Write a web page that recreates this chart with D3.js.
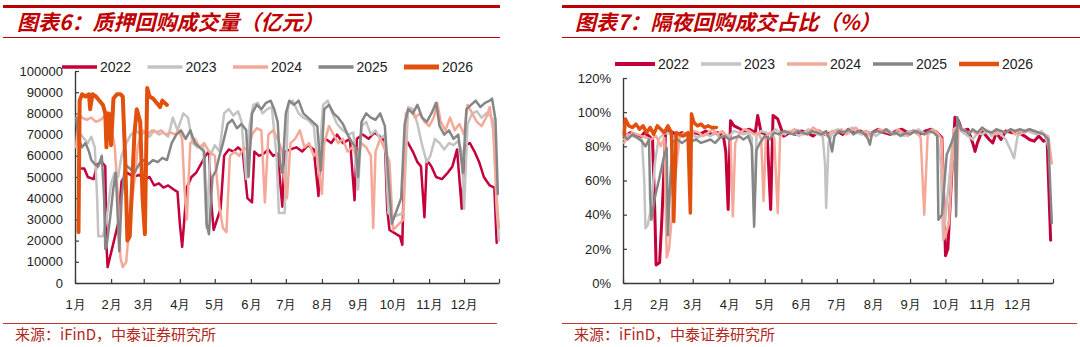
<!DOCTYPE html>
<html>
<head>
<meta charset="utf-8">
<script src="https://cdn.jsdelivr.net/npm/d3@7"></script>
<style>
  body { margin: 0; background: #fff; }
  svg { display: block; font-family: "Liberation Sans", Arial, "Noto Sans CJK SC", sans-serif; }
</style>
</head>
<body>
<svg id="chart" width="1080" height="347"></svg>
<script>
// ---- shared labels ----
const monthLabels = ["1月","2月","3月","4月","5月","6月","7月","8月","9月","10月","11月","12月"];
const years = ["2022","2023","2024","2025","2026"];
const yearColors = ["#c4003a","#c3c3c3","#f6a898","#868686","#e2500e"];
const volumeTicks = [0,10000,20000,30000,40000,50000,60000,70000,80000,90000,100000];
const shareTicks = [0,20,40,60,80,100,120];

// ---- 图表6 质押回购成交量（亿元）: [day of year, value] ----
const volume2022 = [[3,54000],[8,54000],[11,50000],[16,49000],[19,56000],[23,57000],[26,55000],[27,18000],[28,7500],[37,28000],[40,48000],[45,52000],[50,50000],[55,51000],[60,49000],[64,50000],[68,46000],[72,47000],[76,45000],[80,46000],[85,44000],[88,43000],[90,28000],[92,17000],[96,45000],[100,50000],[104,52000],[108,56000],[112,60000],[115,62000],[117,38000],[119,25000],[125,35000],[128,60000],[132,63000],[136,62000],[140,64000],[144,62000],[148,40000],[152,38000],[154,62000],[158,60000],[162,61000],[166,63000],[170,60000],[174,61000],[178,36000],[180,62000],[185,63000],[190,64000],[195,62000],[200,65000],[205,63000],[209,41000],[211,65000],[215,68000],[220,66000],[225,70000],[230,66000],[236,68000],[240,39000],[242,68000],[247,70000],[252,68000],[257,71000],[262,69000],[266,67000],[268,35000],[270,25000],[279,22000],[281,18000],[283,68000],[286,66000],[290,62000],[294,57000],[297,55000],[300,31000],[302,58000],[306,55000],[310,50000],[315,49000],[320,52000],[324,55000],[328,63000],[332,35000],[335,65000],[339,66000],[343,62000],[347,57000],[351,50000],[356,46000],[360,45000],[362,19000]];
const volume2023 = [[2,72000],[5,70000],[8,68000],[11,66000],[14,69000],[17,64000],[19,40000],[20,22000],[24,22000],[27,30000],[31,47000],[34,52000],[37,50000],[40,60000],[44,66000],[48,70000],[52,72000],[56,70000],[60,71000],[64,69000],[68,72000],[72,70000],[76,71000],[80,69000],[84,78000],[88,72000],[93,80000],[97,78000],[101,66000],[105,64000],[110,65000],[113,26000],[116,60000],[120,65000],[124,62000],[128,80000],[132,82000],[136,79000],[140,81000],[143,76000],[147,49000],[150,75000],[153,84000],[157,85000],[161,80000],[165,82000],[169,83000],[173,60000],[175,33000],[180,33000],[183,84000],[187,86000],[192,80000],[196,78000],[200,77000],[205,74000],[209,53000],[213,84000],[217,86000],[221,80000],[225,75000],[230,72000],[235,70000],[239,71000],[243,44000],[246,74000],[250,76000],[254,70000],[258,72000],[262,68000],[266,70000],[269,33000],[272,31000],[282,33000],[286,83000],[290,82000],[294,75000],[298,65000],[302,57000],[305,60000],[309,68000],[313,66000],[317,63000],[321,66000],[325,65000],[329,67000],[332,62000],[334,35000],[337,75000],[341,80000],[345,81000],[349,78000],[353,80000],[356,79000],[359,77000],[362,35000],[364,20000]];
const volume2024 = [[1,64000],[3,80000],[6,78000],[10,77000],[14,78000],[18,76000],[22,77000],[26,79000],[30,76000],[34,65000],[37,40000],[39,12000],[41,7500],[44,10000],[47,30000],[51,48000],[54,65000],[58,72000],[62,70000],[66,72000],[70,71000],[74,72000],[78,70000],[82,71000],[86,70000],[89,72000],[92,68000],[94,44000],[96,30000],[99,66000],[103,68000],[107,64000],[111,66000],[115,62000],[120,60000],[124,36000],[127,26000],[130,24000],[133,60000],[137,62000],[141,60000],[145,64000],[149,62000],[152,70000],[156,73000],[160,72000],[163,38000],[166,70000],[170,72000],[174,68000],[178,62000],[180,48000],[182,40000],[185,66000],[189,68000],[193,72000],[197,64000],[201,66000],[205,60000],[208,62000],[210,50000],[212,42000],[214,66000],[218,74000],[222,70000],[226,66000],[230,68000],[234,62000],[238,64000],[242,59000],[246,66000],[250,64000],[254,60000],[256,26000],[258,62000],[262,68000],[266,63000],[270,57000],[273,25000],[282,30000],[284,80000],[288,82000],[292,78000],[296,80000],[300,76000],[304,74000],[308,78000],[311,85000],[314,76000],[318,72000],[322,78000],[326,72000],[330,75000],[334,70000],[337,84000],[341,80000],[345,76000],[349,74000],[353,78000],[356,83000],[359,72000],[362,40000],[364,26000]];
const volume2025 = [[1,78000],[3,68000],[6,64000],[9,66000],[12,62000],[14,58000],[17,56000],[20,55000],[23,60000],[25,40000],[26,16000],[27,17000],[30,30000],[33,45000],[35,52000],[36,40000],[38,15000],[40,40000],[43,56000],[47,54000],[51,52000],[55,56000],[59,58000],[63,56000],[67,58000],[71,57000],[75,59000],[79,58000],[83,66000],[87,70000],[91,72000],[95,68000],[99,72000],[103,66000],[107,64000],[111,62000],[113,28000],[115,23000],[118,50000],[121,53000],[124,60000],[127,66000],[131,75000],[135,77000],[139,73000],[143,75000],[147,72000],[149,50000],[152,80000],[156,84000],[160,82000],[164,85000],[168,86000],[171,82000],[174,76000],[176,56000],[178,52000],[181,80000],[184,86000],[188,84000],[192,86000],[196,80000],[200,78000],[204,76000],[208,74000],[211,53000],[214,82000],[218,84000],[222,80000],[226,78000],[230,75000],[234,70000],[238,66000],[241,64000],[243,50000],[246,76000],[250,80000],[254,78000],[258,77000],[262,80000],[266,74000],[269,50000],[272,28000],[280,40000],[283,75000],[286,82000],[290,80000],[294,84000],[298,78000],[302,76000],[306,80000],[310,85000],[313,74000],[317,70000],[321,72000],[325,68000],[329,70000],[333,52000],[336,82000],[340,84000],[344,86000],[348,83000],[352,85000],[356,86000],[358,87000],[361,77000],[363,42000]];
const volume2026 = [[3,24000],[4,86000],[6,89000],[9,88000],[12,89000],[13,82000],[15,89000],[18,88000],[21,86000],[24,84000],[26,80000],[27,64000],[28,80000],[29,80000],[31,65000],[33,87000],[36,89000],[39,89000],[41,88000],[43,60000],[45,20000],[47,22000],[51,70000],[53,82000],[56,76000],[58,40000],[60,23000],[62,92000],[64,88000],[67,87000],[70,85000],[73,83000],[75,86000],[79,84000]];

// ---- 图表7 隔夜回购成交占比（%）: [day of year, percent] ----
const share2022 = [[2,86],[6,88],[10,87],[14,85],[18,88],[22,86],[25,84],[27,40],[28,10.5],[31,12],[33,39],[36,88],[40,89],[45,87],[50,88],[55,86],[60,88],[65,87],[70,89],[75,87],[80,88],[85,86],[87,77],[89,43],[91,95],[94,92],[97,91],[102,89],[107,90],[112,88],[114,98],[117,88],[122,87],[125,43],[127,98],[131,96],[136,86],[141,88],[146,87],[151,89],[156,88],[161,86],[166,89],[171,87],[176,88],[181,89],[186,87],[191,90],[196,88],[201,89],[206,87],[211,88],[216,90],[221,88],[226,87],[231,89],[236,90],[241,88],[246,89],[251,87],[256,89],[261,90],[266,88],[270,85],[273,16],[275,20],[278,60],[281,97],[284,95],[287,89],[292,90],[296,82],[298,77],[300,82],[304,89],[310,84],[313,82],[316,88],[320,84],[324,89],[330,88],[335,88],[340,86],[344,84],[348,83],[352,86],[356,83],[359,84],[362,25]];
const share2023 = [[1,84],[4,87],[8,86],[12,85],[16,84],[18,60],[19,32],[21,34],[24,45],[27,70],[30,84],[34,87],[38,88],[42,86],[46,85],[50,87],[54,86],[58,88],[62,85],[66,86],[70,87],[74,86],[78,88],[82,85],[86,87],[90,86],[94,89],[98,88],[102,87],[106,88],[109,85],[111,41],[113,86],[117,89],[121,88],[125,87],[129,90],[133,88],[137,87],[141,89],[145,88],[149,86],[153,88],[157,90],[161,88],[165,87],[169,86],[171,70],[172,44],[174,82],[178,89],[182,90],[186,88],[190,89],[194,91],[198,88],[202,87],[206,89],[210,88],[214,86],[218,88],[222,90],[226,89],[230,87],[234,88],[238,86],[242,89],[246,88],[250,90],[254,88],[258,87],[262,89],[266,86],[269,70],[271,25],[276,60],[280,90],[284,92],[288,88],[292,86],[296,84],[300,88],[304,87],[308,89],[312,86],[316,88],[320,87],[324,84],[328,78],[331,73],[334,86],[338,88],[342,89],[346,88],[350,87],[354,89],[357,87],[360,80],[362,75]];
const share2024 = [[1,82],[4,86],[8,88],[12,87],[16,86],[20,85],[24,84],[28,86],[32,80],[35,85],[37,15],[39,20],[44,60],[48,86],[52,88],[56,87],[60,89],[64,88],[68,86],[72,88],[76,90],[80,87],[84,89],[88,86],[91,85],[93,39],[95,82],[99,88],[103,90],[107,89],[111,87],[115,88],[117,84],[119,48],[121,86],[125,88],[128,85],[131,41],[133,86],[137,89],[141,88],[145,90],[149,89],[153,87],[157,88],[161,91],[165,89],[169,88],[173,86],[177,89],[181,88],[185,90],[189,87],[193,89],[197,91],[201,88],[205,89],[209,86],[213,88],[217,90],[221,89],[225,88],[229,87],[233,90],[237,88],[241,86],[245,89],[249,88],[252,85],[255,40],[258,88],[262,90],[266,88],[270,84],[272,26],[276,35],[280,90],[282,47],[284,92],[288,90],[292,88],[296,89],[300,87],[304,90],[308,89],[312,88],[316,87],[320,89],[324,88],[328,90],[332,87],[336,89],[340,88],[344,90],[348,89],[352,88],[356,87],[360,86],[363,70]];
const share2025 = [[1,86],[4,84],[8,87],[12,85],[16,83],[19,80],[22,84],[23,50],[24,37],[27,50],[31,62],[35,75],[37,79],[38,28],[40,60],[42,83],[46,84],[50,82],[54,84],[58,83],[62,84],[66,82],[70,83],[74,84],[78,82],[82,85],[86,86],[90,84],[94,85],[98,86],[102,84],[106,86],[109,80],[111,33],[113,78],[116,82],[120,86],[124,84],[128,88],[132,87],[136,89],[140,88],[144,87],[148,89],[152,88],[156,87],[160,89],[164,88],[168,87],[172,89],[175,84],[177,77],[179,86],[183,89],[187,88],[191,90],[195,87],[199,89],[203,88],[207,85],[209,81],[211,88],[215,89],[219,88],[223,90],[227,87],[231,88],[235,86],[239,88],[243,87],[247,89],[251,88],[255,87],[259,89],[263,88],[266,86],[267,37],[270,40],[274,75],[278,82],[281,88],[282,39],[283,97],[286,90],[290,89],[293,87],[296,90],[300,88],[304,91],[308,89],[312,88],[316,90],[320,89],[324,88],[328,90],[332,89],[336,90],[340,89],[344,90],[348,89],[352,88],[356,87],[360,84],[363,35]];
const share2026 = [[1,87],[2,96],[5,92],[8,91],[11,93],[14,90],[17,92],[20,88],[23,91],[26,87],[29,92],[32,90],[35,88],[38,92],[41,88],[43,36],[45,88],[48,87],[51,86],[55,88],[57,41],[58,99],[60,94],[63,92],[66,93],[69,91],[72,92],[75,91],[79,91]];

const svg = d3.select("#chart");
const dayDate = d => new Date(2023, 0, 1 + d);
const monthStarts = d3.range(12).map(m => new Date(2023, m, 1));
const yearEnd = new Date(2023, 11, 31);

const panels = [
  {
    left: 3, right: 500, titleX: 17, title: "图表6：质押回购成交量（亿元）",
    xRange: [75, 499], yRange: [283, 71], yMax: 100000, ticks: volumeTicks, fmt: d => String(d),
    series: [volume2022, volume2023, volume2024, volume2025, volume2026],
    widths: [2.5, 2.5, 2.5, 2.5, 4],
    legendX: 62, legendY: 67, legendStep: 85.5, legendLine: 35
  },
  {
    left: 562, right: 1080, titleX: 575, title: "图表7：隔夜回购成交占比（%）",
    xRange: [623, 1053], yRange: [283, 78], yMax: 120, ticks: shareTicks, fmt: d => d + "%",
    series: [share2022, share2023, share2024, share2025, share2026],
    widths: [3, 2.5, 2.5, 2.5, 3.5],
    legendX: 615, legendY: 64, legendStep: 86, legendLine: 40
  }
];

panels.forEach(p => {
  const g = svg.append("g");

  // header band and title
  g.append("rect").attr("x", p.left).attr("y", 5).attr("width", p.right - p.left).attr("height", 3).attr("fill", "#c00000");
  g.append("line").attr("x1", p.left).attr("x2", p.right).attr("y1", 37.5).attr("y2", 37.5)
    .attr("stroke", "#c00000").attr("stroke-width", 1);
  g.append("text").attr("x", p.titleX).attr("y", 30)
    .attr("font-family", "'Noto Sans CJK SC', sans-serif")
    .attr("font-size", 21).attr("font-weight", "bold").attr("font-style", "italic")
    .attr("fill", "#c00000").text(p.title);

  // scales
  const x = d3.scaleTime().domain([new Date(2023, 0, 1), yearEnd]).range(p.xRange);
  const y = d3.scaleLinear().domain([0, p.yMax]).range(p.yRange);

  // y axis with inward ticks
  const yAxis = g.append("g").attr("transform", `translate(${p.xRange[0]},0)`)
    .call(d3.axisLeft(y).tickValues(p.ticks).tickFormat(p.fmt).tickSizeInner(-4).tickSizeOuter(0).tickPadding(12));
  yAxis.selectAll("text").attr("font-size", 13).attr("fill", "#222");

  // x axis, month starts plus year end
  const xAxis = g.append("g").attr("transform", `translate(0,${p.yRange[0]})`)
    .call(d3.axisBottom(x).tickValues(monthStarts.concat([yearEnd]))
      .tickFormat((d, i) => i < 12 ? monthLabels[i] : "")
      .tickSizeInner(-4).tickSizeOuter(0).tickPadding(17));
  xAxis.selectAll("text").attr("font-size", 13).attr("fill", "#222");

  [yAxis, xAxis].forEach(a => {
    a.select(".domain").attr("stroke", "#3a3a3a").attr("stroke-width", 1.4);
    a.selectAll(".tick line").attr("stroke", "#3a3a3a").attr("stroke-width", 1.2);
  });

  // series lines
  const line = d3.line().x(d => x(dayDate(d[0]))).y(d => y(d[1]));
  p.series.forEach((s, i) => {
    g.append("path").datum(s).attr("d", line)
      .attr("fill", "none").attr("stroke", yearColors[i]).attr("stroke-width", p.widths[i])
      .attr("stroke-linejoin", "round").attr("stroke-linecap", "round");
  });

  // legend
  years.forEach((yr, i) => {
    const lx = p.legendX + i * p.legendStep;
    g.append("line").attr("x1", lx).attr("x2", lx + p.legendLine)
      .attr("y1", p.legendY).attr("y2", p.legendY)
      .attr("stroke", yearColors[i]).attr("stroke-width", p.widths[i] + 1);
    g.append("text").attr("x", lx + p.legendLine + 3).attr("y", p.legendY + 5)
      .attr("font-size", 14).attr("fill", "#222").text(yr);
  });

  // footer
  g.append("line").attr("x1", p.left).attr("x2", p.right - 3).attr("y1", 323.5).attr("y2", 323.5)
    .attr("stroke", "#c0392b").attr("stroke-width", 1);
  g.append("text").attr("x", p.left + 12).attr("y", 340)
    .attr("font-family", "'Noto Sans CJK SC', sans-serif")
    .attr("font-size", 15).attr("fill", "#b0281e").text("来源：iFinD，中泰证券研究所");
});
</script>
</body>
</html>
